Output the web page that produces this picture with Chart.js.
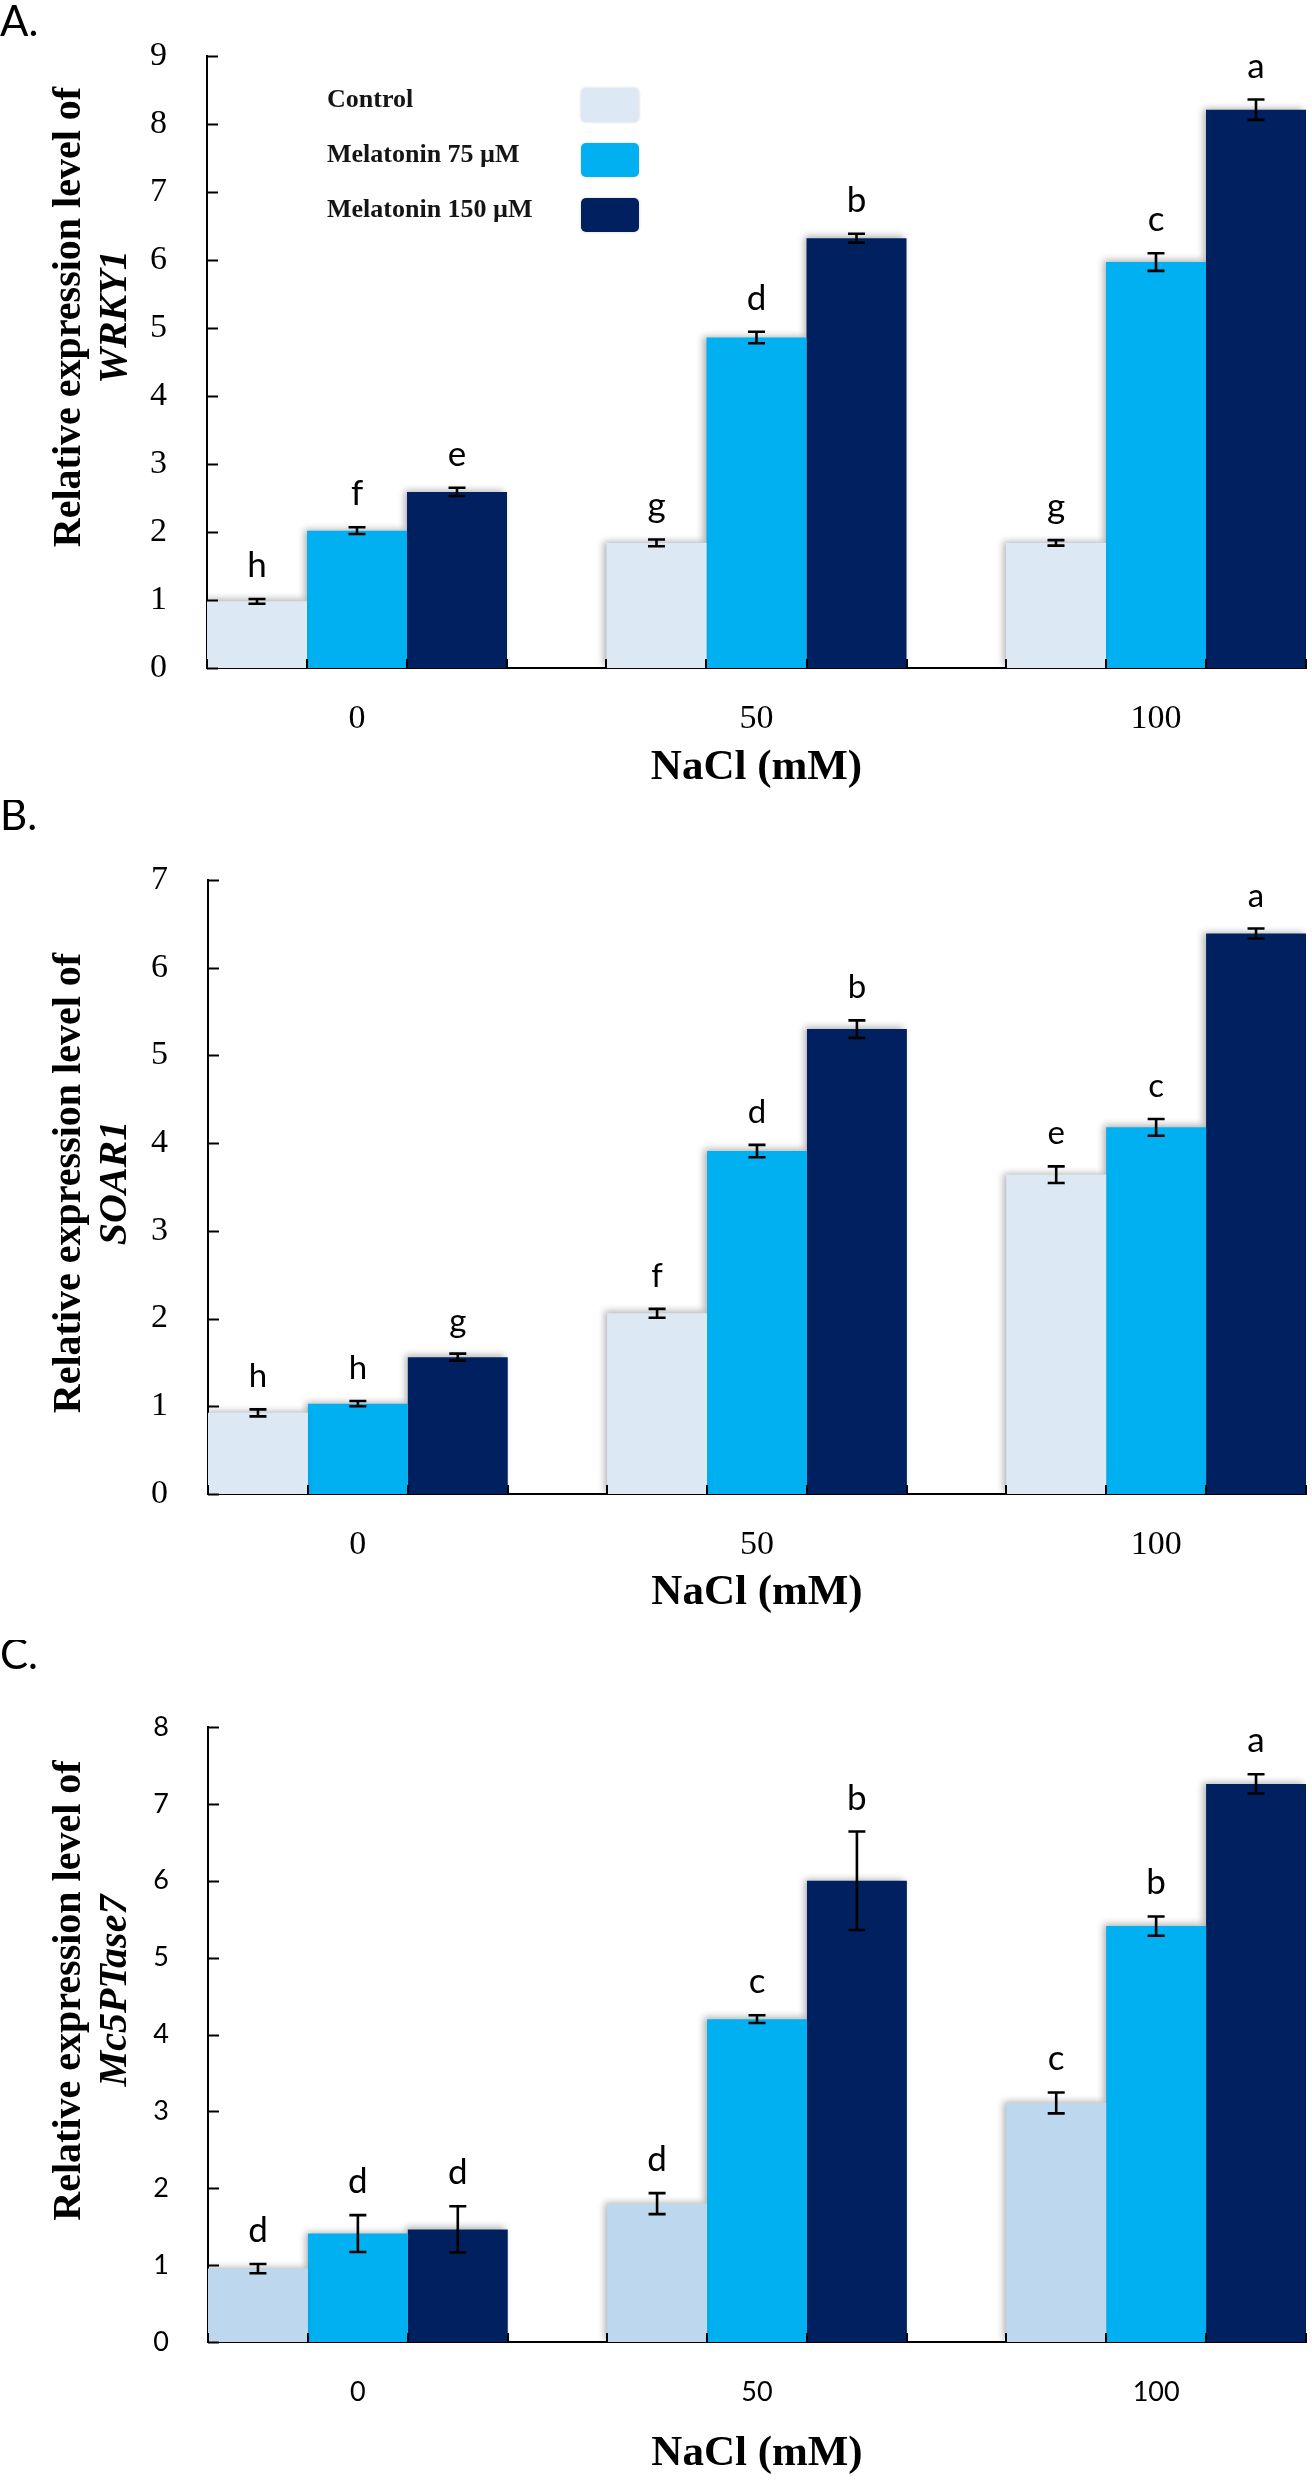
<!DOCTYPE html>
<html>
<head>
<meta charset="utf-8">
<script src="https://cdn.jsdelivr.net/npm/chart.js@4.4.1/dist/chart.umd.min.js"></script>
<style>
  html, body { margin: 0; padding: 0; background: #fff; width: 1312px; height: 2480px; overflow: hidden; }
  .panel { position: absolute; left: 0; width: 1312px; }
  canvas { display: block; }
</style>
</head>
<body>
<div class="panel" style="top:0px;height:800px"><canvas id="chartA" width="1312" height="800"></canvas></div>
<div class="panel" style="top:800px;height:840px"><canvas id="chartB" width="1312" height="840"></canvas></div>
<div class="panel" style="top:1640px;height:840px"><canvas id="chartC" width="1312" height="840"></canvas></div>
<script>
// ---------------- DATA ----------------
const categories = ['0', '50', '100'];           // NaCl (mM)
const seriesLabels = ['Control', 'Melatonin 75 µM', 'Melatonin 150 µM'];
const xTitleText = 'NaCl (mM)';

// A. WRKY1
const wrky1Ticks = [0, 1, 2, 3, 4, 5, 6, 7, 8, 9];
const wrky1Control = [0.98, 1.84, 1.84];
const wrky1ControlErr = [0.035, 0.05, 0.04];
const wrky1ControlLetters = ['h', 'g', 'g'];
const wrky1Mel75 = [2.02, 4.86, 5.97];
const wrky1Mel75Err = [0.05, 0.085, 0.13];
const wrky1Mel75Letters = ['f', 'd', 'c'];
const wrky1Mel150 = [2.59, 6.32, 8.21];
const wrky1Mel150Err = [0.06, 0.065, 0.15];
const wrky1Mel150Letters = ['e', 'b', 'a'];

// B. SOAR1
const soar1Ticks = [0, 1, 2, 3, 4, 5, 6, 7];
const soar1Control = [0.925, 2.06, 3.64];
const soar1ControlErr = [0.04, 0.05, 0.095];
const soar1ControlLetters = ['h', 'f', 'e'];
const soar1Mel75 = [1.03, 3.91, 4.18];
const soar1Mel75Err = [0.03, 0.07, 0.095];
const soar1Mel75Letters = ['h', 'd', 'c'];
const soar1Mel150 = [1.56, 5.30, 6.39];
const soar1Mel150Err = [0.04, 0.10, 0.057];
const soar1Mel150Letters = ['g', 'b', 'a'];

// C. Mc5PTase7
const mc5Ticks = [0, 1, 2, 3, 4, 5, 6, 7, 8];
const mc5Control = [0.955, 1.80, 3.11];
const mc5ControlErr = [0.06, 0.136, 0.136];
const mc5ControlLetters = ['d', 'd', 'c'];
const mc5Mel75 = [1.41, 4.20, 5.41];
const mc5Mel75Err = [0.24, 0.05, 0.125];
const mc5Mel75Letters = ['d', 'c', 'b'];
const mc5Mel150 = [1.465, 6.00, 7.26];
const mc5Mel150Err = [0.30, 0.64, 0.125];
const mc5Mel150Letters = ['d', 'b', 'a'];

// ---------------- STYLE ----------------
const COLOR_CONTROL_AB = '#dde8f5';
const COLOR_CONTROL_C = '#bdd7ee';
const COLOR_MEL75 = '#00b0f0';
const COLOR_MEL150 = '#00205f';
const SERIF = "'Liberation Serif', 'Times New Roman', serif";
const SANS = "Lato, 'Open Sans', sans-serif";
const GROUP_FRAC = 0.751;
const X_TITLE_SIZE = 43;

// ---------------- PLUGIN ----------------
const decorPlugin = {
  id: 'decor',
  beforeDatasetsDraw(chart) {
    const ctx = chart.ctx;
    ctx.save();
    ctx.shadowColor = 'rgba(0,0,0,0.30)';
    ctx.shadowBlur = 7;
    ctx.shadowOffsetX = -3;
    ctx.shadowOffsetY = -2;
  },
  afterDatasetsDraw(chart) {
    const ctx = chart.ctx;
    ctx.restore();
    const o = chart.options.plugins.decor;
    const ys = chart.scales.y;
    chart.data.datasets.forEach((ds, di) => {
      const meta = chart.getDatasetMeta(di);
      meta.data.forEach((bar, j) => {
        const v = ds.data[j].y, e = ds.errors[j];
        const yTop = ys.getPixelForValue(v + e);
        const yBot = ys.getPixelForValue(v - e);
        const cap = 8.5;
        ctx.save();
        ctx.strokeStyle = '#000';
        ctx.lineWidth = 2.6;
        ctx.beginPath();
        ctx.moveTo(bar.x, yTop); ctx.lineTo(bar.x, yBot);
        ctx.moveTo(bar.x - cap, yTop); ctx.lineTo(bar.x + cap, yTop);
        ctx.moveTo(bar.x - cap, yBot); ctx.lineTo(bar.x + cap, yBot);
        ctx.stroke();
        ctx.fillStyle = '#000';
        ctx.font = o.letterFont;
        ctx.textAlign = 'center';
        ctx.textBaseline = 'alphabetic';
        ctx.fillText(ds.letters[j], bar.x, yTop - o.letterGap);
        ctx.restore();
      });
    });
  },
  afterDraw(chart) {
    const ctx = chart.ctx;
    const o = chart.options.plugins.decor;
    const area = chart.chartArea;
    const ys = chart.scales.y;
    ctx.save();
    ctx.strokeStyle = '#000';
    ctx.lineWidth = 2;
    // inner y tick marks
    ctx.beginPath();
    ys.ticks.forEach(t => {
      const py = Math.round(ys.getPixelForValue(t.value)) + 0.5;
      ctx.moveTo(area.left, py); ctx.lineTo(area.left + 11, py);
    });
    // inner x tick marks at bar boundaries
    const edges = new Set();
    chart.data.datasets.forEach((ds, di) => {
      chart.getDatasetMeta(di).data.forEach(bar => {
        edges.add(Math.round(bar.x - bar.width / 2));
        edges.add(Math.round(bar.x + bar.width / 2));
      });
    });
    edges.forEach(ex => {
      ctx.moveTo(ex, area.bottom); ctx.lineTo(ex, area.bottom - 9);
    });
    ctx.stroke();

    // y-axis title (two lines, second italic)
    const cy = (area.top + area.bottom) / 2 + o.yTitleShift;
    ctx.fillStyle = '#000';
    ctx.textAlign = 'center';
    ctx.textBaseline = 'alphabetic';
    o.yTitle.forEach((line, i) => {
      ctx.save();
      ctx.translate(o.yTitleBaselines[i], cy);
      ctx.rotate(-Math.PI / 2);
      ctx.font = (i === 1 ? 'italic ' : '') + 'bold 40px ' + SERIF;
      ctx.fillText(line, 0, 0);
      ctx.restore();
    });

    // panel label
    ctx.font = '42px ' + SANS;
    ctx.textAlign = 'left';
    ctx.fillText(o.panelLabel, 0, o.panelBaseline);

    // legend (inside plot)
    if (o.legend) {
      ctx.font = 'bold 26px ' + SERIF;
      ctx.textAlign = 'left';
      chart.data.datasets.forEach((ds, i) => {
        const base = area.top + 51 + i * 55;
        ctx.fillStyle = '#151515';
        ctx.fillText(ds.label, area.left + 120, base);
        ctx.save();
        ctx.shadowColor = 'rgba(0,0,0,0.18)';
        ctx.shadowBlur = 3;
        ctx.fillStyle = ds.backgroundColor;
        ctx.beginPath();
        ctx.roundRect(area.left + 374, base - 19, 58, 34, 5);
        ctx.fill();
        ctx.restore();
      });
    }
    ctx.restore();
  }
};

// ---------------- BUILDER ----------------
function buildChart(id, spec) {
  const canvas = document.getElementById(id);
  const W = canvas.width, H = canvas.height;
  const datasets = spec.series.map((s, i) => ({
    label: seriesLabels[i],
    data: categories.map((c, j) => ({ x: j, y: s.values[j] })),
    errors: s.errors,
    letters: s.letters,
    backgroundColor: s.color,
    borderWidth: 0,
    categoryPercentage: GROUP_FRAC,
    barPercentage: 1
  }));
  const xH = spec.xTitleOffset + X_TITLE_SIZE * 1.2 / 2;
  return new Chart(canvas, {
    type: 'bar',
    data: { datasets },
    plugins: [decorPlugin],
    options: {
      responsive: false,
      animation: false,
      devicePixelRatio: 1,
      events: [],
      layout: {
        padding: { left: 0, top: spec.area.top, right: W - spec.area.right, bottom: H - spec.area.bottom - xH }
      },
      scales: {
        x: {
          type: 'linear',
          offset: false,
          min: -GROUP_FRAC / 2,
          max: categories.length - 1 + GROUP_FRAC / 2,
          afterBuildTicks: (s) => { s.ticks = categories.map((c, i) => ({ value: i })); },
          afterFit: (s) => { s.height = xH; },
          grid: { display: false, offset: false },
          border: { display: true, color: '#000', width: 2 },
          ticks: {
            callback: (v) => categories[v],
            font: spec.xTickFont,
            color: '#000',
            padding: spec.xTickPad,
            maxRotation: 0,
            autoSkip: false
          },
          title: {
            display: true,
            text: xTitleText,
            color: '#000',
            font: { family: SERIF, size: X_TITLE_SIZE, weight: 'bold', lineHeight: 1.2 },
            padding: { top: 0, bottom: 0 }
          }
        },
        y: {
          min: 0,
          max: spec.yTicks[spec.yTicks.length - 1],
          afterBuildTicks: (s) => { s.ticks = spec.yTicks.map(v => ({ value: v })); },
          afterFit: (s) => { s.width = spec.area.left; },
          grid: { display: false },
          border: { display: true, color: '#000', width: 2 },
          ticks: {
            callback: (v) => String(v),
            font: spec.yTickFont,
            color: '#000',
            padding: spec.yTickPad
          }
        }
      },
      plugins: {
        legend: { display: false },
        tooltip: { enabled: false },
        title: { display: false },
        decor: {
          yTitle: spec.yTitle,
          yTitleShift: spec.yTitleShift,
          yTitleBaselines: [80, 126],
          letterFont: spec.letterFont,
          letterGap: 22,
          legend: spec.legend,
          panelLabel: spec.panelLabel,
          panelBaseline: spec.panelBaseline
        }
      }
    }
  });
}

buildChart('chartA', {
  area: { left: 207, right: 1306, top: 56, bottom: 668 },
  yTicks: wrky1Ticks,
  series: [
    { values: wrky1Control, errors: wrky1ControlErr, letters: wrky1ControlLetters, color: COLOR_CONTROL_AB },
    { values: wrky1Mel75, errors: wrky1Mel75Err, letters: wrky1Mel75Letters, color: COLOR_MEL75 },
    { values: wrky1Mel150, errors: wrky1Mel150Err, letters: wrky1Mel150Letters, color: COLOR_MEL150 }
  ],
  yTitle: ['Relative expression level of', 'WRKY1'],
  yTitleShift: -45,
  xTitleOffset: 100,
  xTickFont: { family: SERIF, size: 34 },
  xTickPad: 23,
  yTickFont: { family: SERIF, size: 34 },
  yTickPad: 32,
  letterFont: '35px ' + SANS,
  legend: true,
  panelLabel: 'A.',
  panelBaseline: 36
});

buildChart('chartB', {
  area: { left: 208, right: 1306, top: 80, bottom: 694 },
  yTicks: soar1Ticks,
  series: [
    { values: soar1Control, errors: soar1ControlErr, letters: soar1ControlLetters, color: COLOR_CONTROL_AB },
    { values: soar1Mel75, errors: soar1Mel75Err, letters: soar1Mel75Letters, color: COLOR_MEL75 },
    { values: soar1Mel150, errors: soar1Mel150Err, letters: soar1Mel150Letters, color: COLOR_MEL150 }
  ],
  yTitle: ['Relative expression level of', 'SOAR1'],
  yTitleShift: -4,
  xTitleOffset: 99,
  xTickFont: { family: SERIF, size: 34 },
  xTickPad: 23,
  yTickFont: { family: SERIF, size: 34 },
  yTickPad: 32,
  letterFont: '33px ' + SANS,
  legend: false,
  panelLabel: 'B.',
  panelBaseline: 30
});

buildChart('chartC', {
  area: { left: 208, right: 1306, top: 87, bottom: 702 },
  yTicks: mc5Ticks,
  series: [
    { values: mc5Control, errors: mc5ControlErr, letters: mc5ControlLetters, color: COLOR_CONTROL_C },
    { values: mc5Mel75, errors: mc5Mel75Err, letters: mc5Mel75Letters, color: COLOR_MEL75 },
    { values: mc5Mel150, errors: mc5Mel150Err, letters: mc5Mel150Letters, color: COLOR_MEL150 }
  ],
  yTitle: ['Relative expression level of', 'Mc5PTase7'],
  yTitleShift: -44,
  xTitleOffset: 112,
  xTickFont: { family: SANS, size: 27 },
  xTickPad: 26,
  yTickFont: { family: SANS, size: 27 },
  yTickPad: 31,
  letterFont: '35px ' + SANS,
  legend: false,
  panelLabel: 'C.',
  panelBaseline: 29
});
</script>
</body>
</html>
